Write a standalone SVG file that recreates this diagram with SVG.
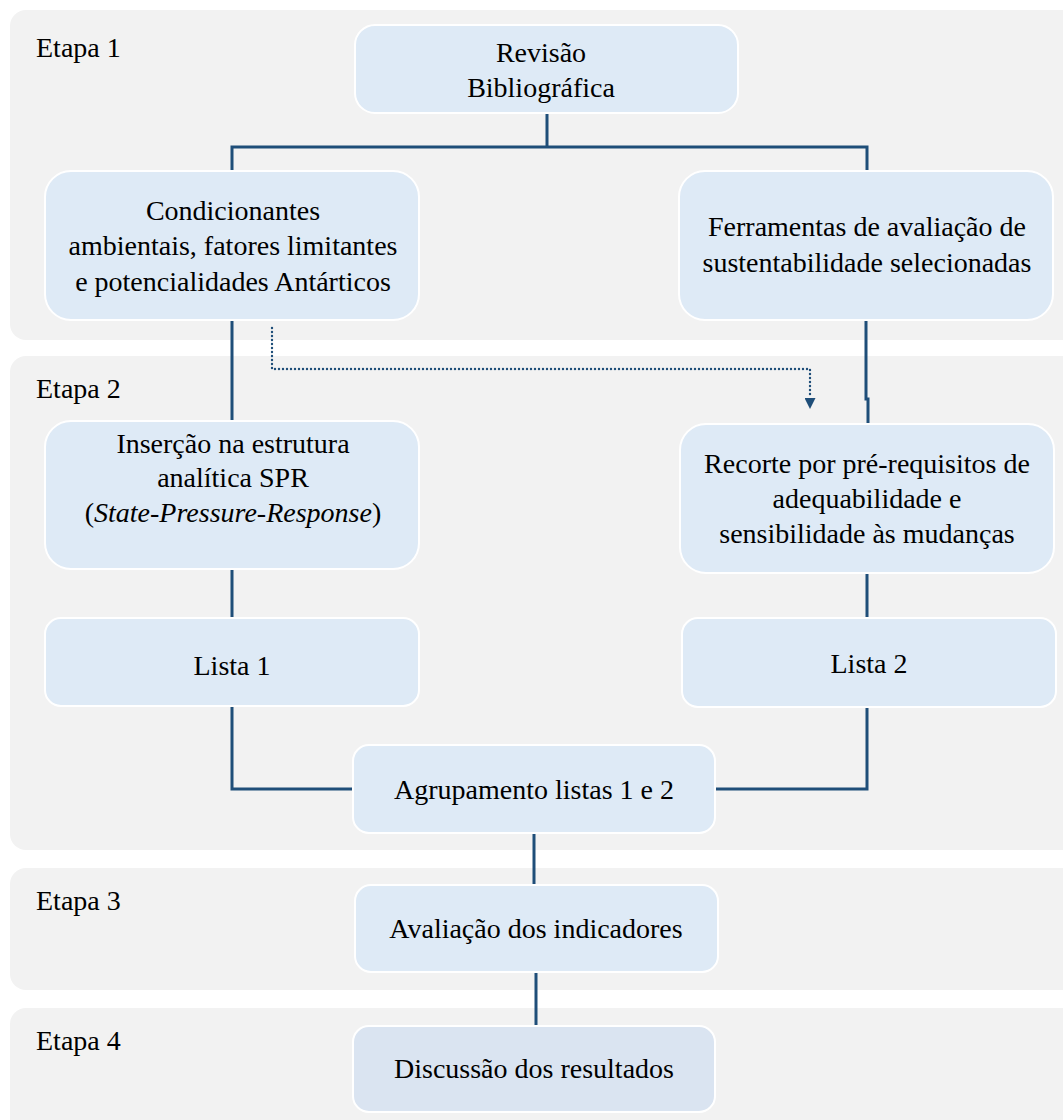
<svg xmlns="http://www.w3.org/2000/svg" width="1063" height="1120" viewBox="0 0 1063 1120">
<defs>
<style>
.panel{fill:#F2F2F2}
.box{fill:#DEEAF6;stroke:#FFFFFF;stroke-width:2}
.box2{fill:#DAE4F1;stroke:#FFFFFF;stroke-width:2}
text{font-family:'Liberation Serif','Times New Roman',Tinos,'DejaVu Serif','Noto Serif',Times,FreeSerif,serif;font-size:28px;fill:#000}
.c{text-anchor:middle}
.con{fill:none;stroke:#1F4E79;stroke-width:3}
.dot{fill:none;stroke:#1F4E79;stroke-width:2.4;stroke-linecap:round;stroke-dasharray:0 4}
</style>
<marker id="ah" viewBox="0 0 10 10" refX="10" refY="5" markerWidth="11" markerHeight="11" markerUnits="userSpaceOnUse" orient="auto">
<path d="M0,0 L10,5 L0,10 Z" fill="#1F4E79"/>
</marker>
</defs>
<rect width="1063" height="1120" fill="#FFFFFF"/>
<g id="panels">
<rect class="panel" x="10" y="10" width="1080" height="330" rx="16"/>
<rect class="panel" x="10" y="356" width="1080" height="494" rx="16"/>
<rect class="panel" x="10" y="868" width="1080" height="122" rx="16"/>
<rect class="panel" x="10" y="1008" width="1080" height="140" rx="16"/>
<text x="36" y="57">Etapa 1</text>
<text x="36" y="398">Etapa 2</text>
<text x="36" y="910">Etapa 3</text>
<text x="36" y="1050">Etapa 4</text>
</g>
<g id="connectors">
<polyline class="con" points="547,113 547,147"/>
<polyline class="con" points="232,171 232,147 867,147 867,171"/>
<polyline class="con" points="232,320 232,421"/>
<polyline class="con" points="866,320 866,399 868,399 868,424"/>
<polyline class="con" points="232,569 232,618"/>
<polyline class="con" points="867,573 867,618"/>
<polyline class="con" points="232,706 232,789 353,789"/>
<polyline class="con" points="867,707 867,789 715,789"/>
<polyline class="con" points="534,833 534,885"/>
<polyline class="con" points="536,972 536,1026"/>
<polyline class="dot" points="272,328 272,369 810,369 810,398"/>
<line x1="810" y1="396" x2="810" y2="409" stroke="none" marker-end="url(#ah)"/>
</g>
<g id="n-revisao">
<rect class="box" x="355" y="25" width="383" height="88" rx="20"/>
<text class="c" x="541" y="62">Revisão</text>
<text class="c" x="541" y="97">Bibliográfica</text>
</g>
<g id="n-condicionantes">
<rect class="box" x="45" y="171" width="374" height="149" rx="26"/>
<text class="c" x="233" y="220">Condicionantes</text>
<text class="c" x="233" y="255">ambientais, fatores limitantes</text>
<text class="c" x="233" y="291">e potencialidades Antárticos</text>
</g>
<g id="n-ferramentas">
<rect class="box" x="679" y="171" width="374" height="149" rx="26"/>
<text class="c" x="867" y="236">Ferramentas de avaliação de</text>
<text class="c" x="867" y="272">sustentabilidade selecionadas</text>
</g>
<g id="n-insercao">
<rect class="box" x="45" y="421" width="374" height="148" rx="26"/>
<text class="c" x="233" y="453">Inserção na estrutura</text>
<text class="c" x="233" y="487">analítica SPR</text>
<text class="c" x="233" y="522">(<tspan font-style="italic">State-Pressure-Response</tspan>)</text>
</g>
<g id="n-recorte">
<rect class="box" x="680" y="424" width="374" height="149" rx="26"/>
<text class="c" x="867" y="473">Recorte por pré-requisitos de</text>
<text class="c" x="867" y="508">adequabilidade e</text>
<text class="c" x="867" y="543">sensibilidade às mudanças</text>
</g>
<g id="n-lista1">
<rect class="box" x="45" y="618" width="374" height="88" rx="16"/>
<text class="c" x="232" y="675">Lista 1</text>
</g>
<g id="n-lista2">
<rect class="box" x="682" y="618" width="374" height="89" rx="16"/>
<text class="c" x="869" y="673">Lista 2</text>
</g>
<g id="n-agrupamento">
<rect class="box" x="353" y="745" width="362" height="88" rx="16"/>
<text class="c" x="534" y="799">Agrupamento listas 1 e 2</text>
</g>
<g id="n-avaliacao">
<rect class="box" x="355" y="885" width="363" height="87" rx="16"/>
<text class="c" x="536" y="938">Avaliação dos indicadores</text>
</g>
<g id="n-discussao">
<rect class="box2" x="353" y="1026" width="362" height="86" rx="16"/>
<text class="c" x="534" y="1078">Discussão dos resultados</text>
</g>
</svg>
